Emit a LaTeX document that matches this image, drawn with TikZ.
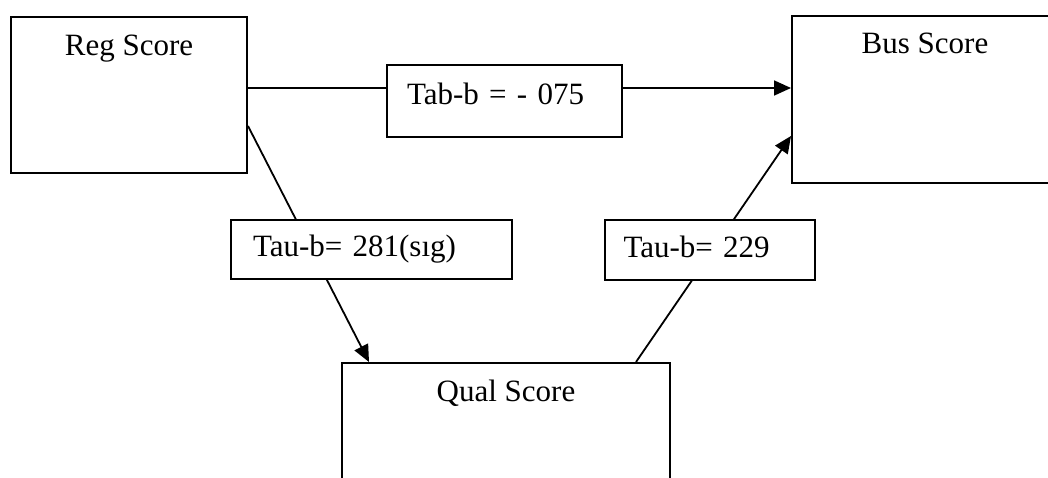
\documentclass[tikz,border=0pt]{standalone}
\usepackage{fontspec}
\setmainfont{Liberation Serif}
\usetikzlibrary{arrows.meta,calc}
\begin{document}
\begin{tikzpicture}[x=1pt,y=-1pt,
  every node/.style={font=\fontsize{31}{36}\selectfont},
  bigbox/.style={draw,line width=2pt,inner sep=0pt},
  lblbox/.style={draw,fill=white,line width=2pt,inner ysep=0pt,align=left,text height=22pt},
  conn/.style={line width=1.8pt,-{Triangle[length=17pt,width=15pt]}}]
\useasboundingbox (0,0) rectangle (1048,478);
\clip (0,0) rectangle (1048,478);
\node[bigbox,minimum width=236pt,minimum height=156pt] (reg) at (129,95) {};
\node[bigbox,minimum width=266pt,minimum height=167pt] (bus) at (925,99.5) {};
\node[bigbox,minimum width=328pt,minimum height=197pt] (qual) at (506,461.5) {};
\node[anchor=base] (regt) at ($(reg.north)+(0,40)$) {Reg Score};
\node[anchor=base] (bust) at ($(bus.north)+(0,39)$) {Bus Score};
\node[anchor=base] (qualt) at ($(qual.north)+(0,39)$) {Qual Score};
\coordinate (hs) at ($(reg.north east)+(0,72)$);
\draw[conn] (hs) -- (hs -| bus.west);
\draw[conn] ($(reg.north east)+(0,110)$) -- ($(qual.north west)+(28,0)$);
\draw[conn] ($(qual.north west)+(295,0)$) -- ($(bus.north west)+(0,121)$);
\node[lblbox,inner xsep=20pt,minimum width=235pt,minimum height=72pt,text width=195pt,text depth=14pt] (tab) at (504.5,101) {\mbox{Tab-b = - 075}};
\node[lblbox,inner xsep=22pt,minimum width=281pt,minimum height=59pt,text width=237pt,text depth=8pt] (t281) at (371.5,249.5) {\mbox{Tau-b= 281(sıg)}};
\node[lblbox,inner xsep=18.5pt,minimum width=210pt,minimum height=59pt,text width=173pt,text depth=8pt] (t229) at (710,250) {\mbox{Tau-b= 229}};
\end{tikzpicture}
\end{document}
